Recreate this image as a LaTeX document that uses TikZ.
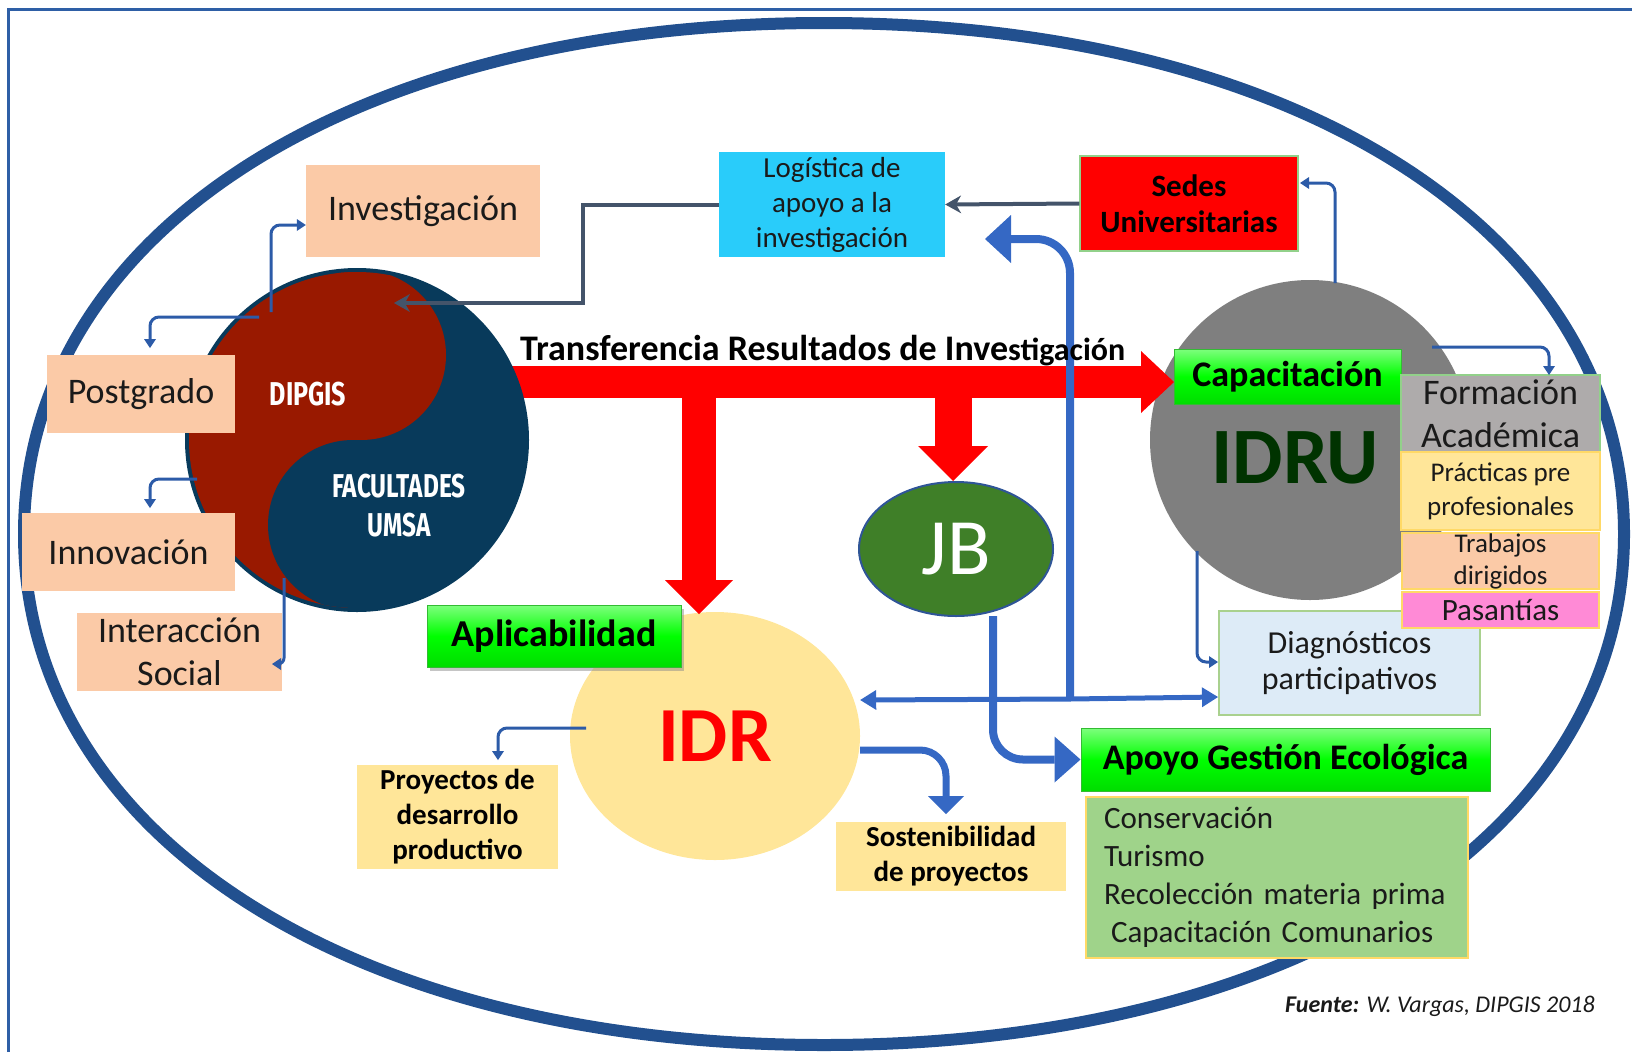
\documentclass[tikz,border=0pt]{standalone}
\usepackage{fontspec}
\usepackage{graphicx}
\setmainfont{Carlito}
\newfontfamily\yyfont{Fira Sans}
\usetikzlibrary{arrows.meta,shapes.geometric,shadows}
\definecolor{cFrame}{HTML}{2E5FA6}
\definecolor{cEll}{HTML}{22508F}
\definecolor{cPeach}{HTML}{FBCAA7}
\definecolor{cCyan}{HTML}{29CCFA}
\definecolor{cSlate}{HTML}{44546A}
\definecolor{cBlue}{HTML}{3568C4}
\definecolor{cBlueT}{HTML}{2C5BA8}
\definecolor{cGray}{HTML}{7F7F7F}
\definecolor{cFormGray}{HTML}{AEABAB}
\definecolor{cYellow}{HTML}{FFE699}
\definecolor{cPink}{HTML}{FF8AD6}
\definecolor{cDiag}{HTML}{DDEBF7}
\definecolor{cDiagB}{HTML}{A9D18E}
\definecolor{cCons}{HTML}{9FD38A}
\definecolor{cGold}{HTML}{FFD966}
\definecolor{cLGreen}{HTML}{92D18A}
\definecolor{cJB}{HTML}{3F7F28}
\definecolor{cJBb}{HTML}{2F5597}
\definecolor{cIDRU}{HTML}{003300}
\definecolor{cYYred}{HTML}{991900}
\definecolor{cYYnavy}{HTML}{083A5B}
\definecolor{cText}{HTML}{1A1A1A}
\definecolor{cBevTop}{HTML}{7DFF7D}
\definecolor{cBevMid}{HTML}{00FF00}
\definecolor{cBevBot}{HTML}{00DD00}
\definecolor{cBevEdge}{HTML}{33BB33}
\newcommand\pxfont[2]{\fontsize{#1bp}{#2bp}\selectfont}
\begin{document}
\begin{tikzpicture}[x=1bp,y=-1bp,
  bx/.style={inner sep=0pt, align=center, text=cText},
  peachbx/.style={bx, fill=cPeach, font=\pxfont{36}{43}},
  greenbev/.style={bx, draw=cBevEdge, line width=1bp, top color=cBevTop, bottom color=cBevBot, middle color=cBevMid, font=\pxfont{36}{40}\bfseries, text=black},
  colbx/.style={bx, line width=1.5bp, minimum width=199bp},
  thinb/.style={draw=cBlueT, line width=3bp, rounded corners=9bp, -{Triangle[width=12bp,length=9bp,line width=0pt]}},
  thickb/.style={draw=cBlue, line width=8bp},
  slate/.style={draw=cSlate, line width=4bp, -{Stealth[width=18bp,length=16bp,line width=0pt]}},
  redarr/.style={draw=red}
]
\useasboundingbox (0,0) rectangle (1632,1052);
% frame
\draw[cFrame, line width=3bp] (8,1052) -- (8,9) -- (1632,9);
% big ellipse
\draw[cEll, line width=12bp] (1624,534) .. controls (1624,835.5) and (1296,1045) .. (824,1045)
  .. controls (352,1045) and (24,835.5) .. (24,534)
  .. controls (24,232.5) and (352,23) .. (824,23)
  .. controls (1296,23) and (1624,232.5) .. (1624,534) -- cycle;

% circles
\node[ellipse, fill=cYellow, minimum width=290bp, minimum height=248bp, inner sep=0pt, text=red, font=\pxfont{78}{78}\bfseries] (idr) at (715,736) {IDR};
\node[circle, fill=cGray, minimum size=320bp, inner sep=0pt] (idru) at (1310,440) {};
\node[ellipse, fill=cJB, draw=cJBb, line width=2bp, minimum width=194bp, minimum height=134bp, inner sep=0pt, text=white, font=\pxfont{80}{80}] (jb) at (956,549) {JB};

% red arrows
\draw[redarr, line width=32bp, -{Triangle[width=62bp,length=33bp,line width=0pt]}] (505,382) -- (1174,382);
\draw[redarr, line width=34bp, -{Triangle[width=68bp,length=34bp,line width=0pt]}] (699,382) -- (699,614);
\draw[redarr, line width=37bp, -{Triangle[width=70bp,length=35bp,line width=0pt]}] (953,382) -- (jb.north -| 953,0);

% yin-yang
\node[circle, fill=cYYnavy, minimum size=344bp, inner sep=0pt] (yy) at (357,440) {};
\begin{scope}
  \clip (357,440) circle[radius=168bp];
  \fill[cYYred] (366,260) -- (348,620) -- (150,620) -- (150,260) -- cycle;
  \fill[cYYred] (361,355) circle[radius=85bp];
  \fill[cYYnavy] (353,525) circle[radius=85bp];
\end{scope}
\node[text=white, font=\yyfont\bfseries\pxfont{33}{39}] (dip) at (308,394) {\scalebox{0.76}[1]{DIPGIS}};
\node[text=white, align=center, font=\yyfont\bfseries\pxfont{33}{39}] (fac) at (399,506) {\scalebox{0.74}[1]{FACULTADES}\\\scalebox{0.74}[1]{UMSA}};

% left boxes
\node[peachbx, minimum width=234bp, minimum height=92bp] (inv) at (423,211) {Investigación};
\node[peachbx, minimum width=188bp, minimum height=78bp] (post) at (141,394) {Postgrado};
\node[peachbx, minimum width=213bp, minimum height=78bp] (innov) at (128.5,552) {Innovación};
\node[peachbx, minimum width=205bp, minimum height=78bp] (inter) at (179.5,652) {Interacción\\Social};

% top boxes
\node[bx, fill=cCyan, minimum width=226bp, minimum height=105bp, font=\pxfont{29}{35}] (logi) at (832,204.5) {Logística de\\apoyo a la\\investigación};
\node[bx, fill=red, draw=cLGreen, line width=1.5bp, minimum width=218bp, minimum height=95bp, font=\pxfont{31}{36}\bfseries, text=black] (sedes) at (1189,203.5) {Sedes\\Universitarias};

% IDRU area
\node[font=\pxfont{80}{80}\bfseries, text=cIDRU, inner sep=0pt] (idrut) at (1295,458) {IDRU};
\node[greenbev, minimum width=227bp, minimum height=55bp] (cap) at (1287.5,376.5) {Capacitación};
\node[bx, fill=cDiag, draw=cDiagB, line width=2bp, minimum width=261bp, minimum height=104bp, font=\pxfont{32}{36}] (diag) at (1349.5,663) {Diagnósticos\\participativos};
\node[colbx, fill=cFormGray, draw=cLGreen, minimum height=77bp, font=\pxfont{36}{43}] (form) at (1500.5,413.5) {Formación\\Académica};
\node[colbx, fill=cYellow, draw=cGold, minimum height=78bp, font=\pxfont{27}{34}] (prac) at (1500.5,491) {Prácticas pre\\profesionales};
\node[colbx, fill=cPeach, draw=cGold, minimum width=197bp, minimum height=56bp, font=\pxfont{27}{32}] (trab) at (1500.5,561) {Trabajos\\dirigidos};
\node[colbx, fill=cPink, draw=cGold, minimum width=197bp, minimum height=36bp, font=\pxfont{31}{34}] (pas) at (1500.5,610) {Pasantías};

% lower boxes
\node[greenbev, drop shadow={shadow xshift=3bp, shadow yshift=-4bp, fill=black!45}, minimum width=254bp, minimum height=62bp, font=\pxfont{38}{40}\bfseries] (apl) at (554,636) {Aplicabilidad};
\node[bx, fill=cYellow, minimum width=201bp, minimum height=104bp, font=\pxfont{29}{35}\bfseries, text=black] (proy) at (457.5,817) {Proyectos de\\desarrollo\\productivo};
\node[bx, fill=cYellow, minimum width=230bp, minimum height=69bp, font=\pxfont{29}{35}\bfseries, text=black] (sost) at (951,856.5) {Sostenibilidad\\de proyectos};
\node[greenbev, minimum width=409bp, minimum height=63bp] (apoyo) at (1285.5,759.5) {Apoyo Gestión Ecológica};
\node[bx, fill=cCons, draw=cGold, line width=2bp, align=left, text width=346bp, inner xsep=18bp, minimum height=161bp, font=\pxfont{31}{38}] (cons) at (1277,877.5) {Conservación\\Turismo\\Recolección materia prima\\\hspace*{7bp}Capacitación Comunarios};

% slate connectors
\draw[slate] (sedes.west) -- (logi.east);
\draw[slate] (logi.west) -| (583,303) -- (394,303);

% thin blue connectors
\draw[thinb] (271,312) |- (inv.west |- 0,225);
\draw[thinb] (259,317) -| (150,348);
\draw[thinb] (197,479) -| (150,508);
\draw[thinb, rounded corners=6bp] (284,578) |- (272,664);
\draw[thinb] (1335,283) |- (1300,183);
\draw[thinb] (1432,347) -| (1549,375);
\draw[thinb] (1197,551) |- (diag.west |- 0,662);
\draw[thinb] (586,728) -| (498,760);

% thick blue connectors
\coordinate (jn) at (1070,699);
\draw[thickb, rounded corners=34bp, -{Triangle[width=48bp,length=26bp,line width=0pt]}] (jn) |- (985,239);
\draw[draw=cBlue, line width=5bp, -{Triangle[width=20bp,length=16bp,line width=0pt]}] (jn) -- (idr.east |- 0,700);
\draw[draw=cBlue, line width=5bp, -{Triangle[width=20bp,length=16bp,line width=0pt]}] (jn) -- (diag.west |- 0,697);
\draw[thickb, rounded corners=30bp, -{Triangle[width=46bp,length=26bp,line width=0pt]}] (993,616) |- (apoyo.west);
\draw[draw=cBlue, line width=7bp, rounded corners=26bp, -{Triangle[width=36bp,length=18bp,line width=0pt]}] (idr.east |- 0,750) -| (946,814);

% transfer label
\node[anchor=base west, inner sep=0pt, font=\pxfont{36}{40}\bfseries, text=black] (trans) at (520,360) {Transferencia Resultados de Inve{\pxfont{32}{36}stigación}};

% source
\node[anchor=base east, inner sep=0pt, font=\pxfont{24}{28}\itshape, text=cText] (src) at (1595,1012) {\textbf{Fuente:} W. Vargas, DIPGIS 2018};
\end{tikzpicture}
\end{document}
